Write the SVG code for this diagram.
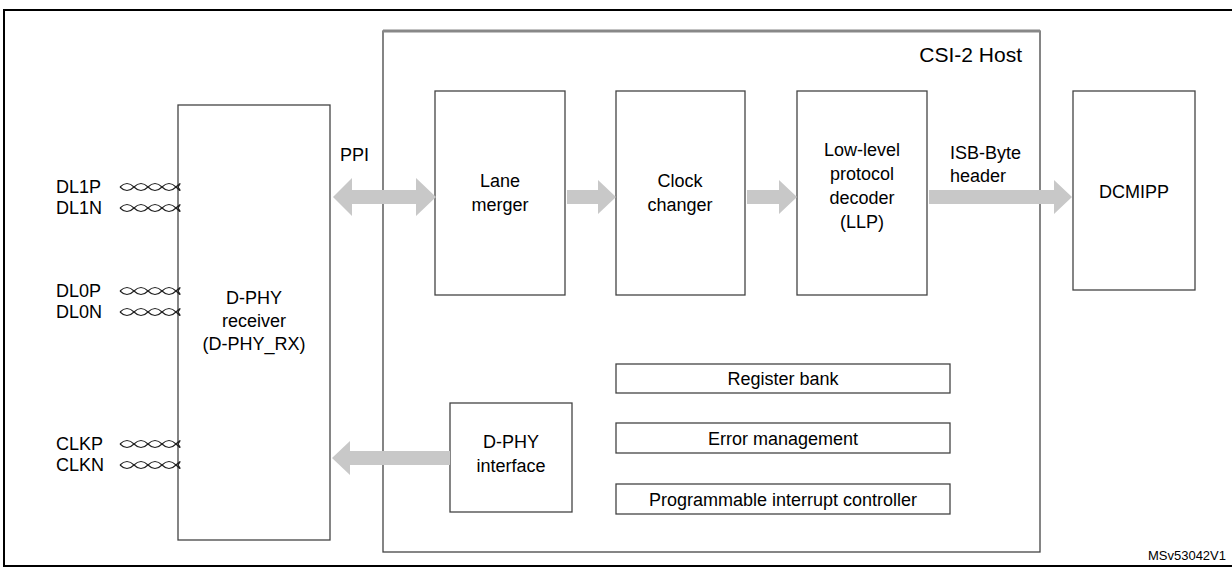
<svg xmlns="http://www.w3.org/2000/svg" width="1232" height="569" viewBox="0 0 1232 569">
<defs>
<style>
.b{fill:#fff;stroke:#444;stroke-width:1.3}
.t{font-family:"Liberation Sans",Arial,sans-serif;font-size:18px;fill:#000}
.m{text-anchor:middle}
.a{fill:#c8c8c8}
.tw{fill:none;stroke:#222;stroke-width:1.1}
</style>
<g id="tp"><path class="tw" d="M0,0 q7,-7 14,0 t14,0 t14,0 t14,0 t2,0"/><path class="tw" d="M0,0 q7,7 14,0 t14,0 t14,0 t14,0 t2,0"/></g>
</defs>
<rect width="1232" height="569" fill="#fff"/>
<rect x="4" y="10" width="1240" height="556" fill="none" stroke="#000" stroke-width="2"/>
<g id="host"><rect x="383" y="31" width="657" height="521" class="b"/><line x1="383" y1="31" x2="1040" y2="31" stroke="#888" stroke-width="3"/><text x="1022" y="62" class="t" style="font-size:21px" text-anchor="end">CSI-2 Host</text></g>
<g id="rx"><rect x="178" y="105" width="152" height="435" class="b"/><text class="t m" x="254" y="304">D-PHY</text><text class="t m" x="254" y="327">receiver</text><text class="t m" x="254" y="350">(D-PHY_RX)</text></g>
<g id="lane"><rect x="435" y="91" width="130" height="204" class="b"/><text class="t m" x="500" y="187">Lane</text><text class="t m" x="500" y="211">merger</text></g>
<g id="clk"><rect x="616" y="91" width="129" height="204" class="b"/><text class="t m" x="680" y="187">Clock</text><text class="t m" x="680" y="211">changer</text></g>
<g id="llp"><rect x="797" y="91" width="130" height="204" class="b"/><text class="t m" x="862" y="156">Low-level</text><text class="t m" x="862" y="180">protocol</text><text class="t m" x="862" y="204">decoder</text><text class="t m" x="862" y="228">(LLP)</text></g>
<g id="dcmipp"><rect x="1073" y="91" width="122" height="199" class="b"/><text class="t m" x="1134" y="198">DCMIPP</text></g>
<g id="reg"><rect x="616" y="364" width="334" height="29" class="b"/><text class="t m" x="783" y="385">Register bank</text></g>
<g id="err"><rect x="616" y="423" width="334" height="30" class="b"/><text class="t m" x="783" y="445">Error management</text></g>
<g id="pic"><rect x="616" y="484" width="334" height="30" class="b"/><text class="t m" x="783" y="506">Programmable interrupt controller</text></g>
<g id="dphyif"><rect x="450" y="403" width="122" height="109" class="b"/><text class="t m" x="511" y="448">D-PHY</text><text class="t m" x="511" y="472">interface</text></g>
<g id="pins">
<text class="t" x="56" y="193">DL1P</text><use href="#tp" x="120" y="187"/>
<text class="t" x="56" y="214">DL1N</text><use href="#tp" x="120" y="208"/>
<text class="t" x="56" y="297">DL0P</text><use href="#tp" x="120" y="291"/>
<text class="t" x="56" y="318">DL0N</text><use href="#tp" x="120" y="312"/>
<text class="t" x="56" y="450">CLKP</text><use href="#tp" x="120" y="444"/>
<text class="t" x="56" y="471">CLKN</text><use href="#tp" x="120" y="465"/>
</g>
<g id="connectors">
<polygon class="a" points="333,197 352,178 352,190 416,190 416,178 436,197 416,216 416,204 352,204 352,216"/>
<polygon class="a" points="567,190 598,190 598,180 616,197 598,214 598,204 567,204"/>
<polygon class="a" points="747,190 779,190 779,180 797,197 779,214 779,204 747,204"/>
<polygon class="a" points="929,190 1054,190 1054,180 1072,197 1054,214 1054,204 929,204"/>
<polygon class="a" points="332,458 350,441 350,451 450,451 450,465 350,465 350,475"/>
<text class="t" x="340" y="161">PPI</text>
<text class="t" x="950" y="159">ISB-Byte</text>
<text class="t" x="950" y="182">header</text>
</g>
<text class="t" x="1226" y="560" style="font-size:13px" text-anchor="end">MSv53042V1</text>
</svg>
